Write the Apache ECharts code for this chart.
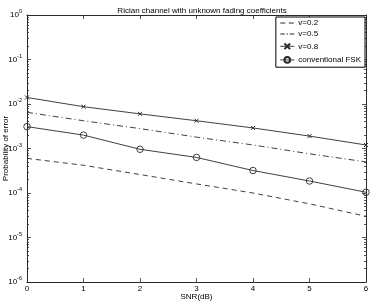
<!DOCTYPE html>
<html><head><meta charset="utf-8">
<script src="https://cdn.jsdelivr.net/npm/echarts@6/dist/echarts.min.js"></script>
<style>html,body{margin:0;padding:0;background:#fff}#c{width:374px;height:304px}</style>
</head><body><div id="c"></div>
<script>
var snr = [0, 1, 2, 3, 4, 5, 6];
var v02 = [0.0006, 0.00042, 0.00026, 0.00016, 0.0001, 0.000057, 0.00003];
var v05 = [0.0065, 0.0042, 0.0028, 0.0018, 0.0012, 0.00076, 0.0005];
var v08 = [0.014, 0.0087, 0.006, 0.0042, 0.0029, 0.0019, 0.0012];
var fsk = [0.0031, 0.002, 0.00096, 0.00063, 0.00032, 0.000186, 0.000104];
var names = ['v=0.2', 'v=0.5', 'v=0.8', 'conventional FSK'];
var yMajor = [1e-6, 1e-5, 1e-4, 1e-3, 1e-2, 1e-1, 1];
var yMinor = [];
for (var e = -6; e < 0; e++) for (var m = 2; m <= 9; m++) yMinor.push(m * Math.pow(10, e));

var FONT = '"Liberation Sans", Arial, sans-serif';
var C = '#2a2a2a';
var chart = echarts.init(document.getElementById('c'));
function pair(d) { return snr.map(function (x, i) { return [x, d[i]]; }); }
function yax(pos, labels, line, ticks, len) {
  return {
    type: 'log', logBase: 10, min: 1e-6, max: 1, position: pos,
    axisLine: { show: line, lineStyle: { color: C, width: 1 } },
    axisTick: { show: true, inside: true, length: len, customValues: ticks, lineStyle: { color: C, width: 0.8 } },
    splitLine: { show: false },
    axisLabel: labels ? {
      show: true, margin: 5, fontFamily: FONT, fontSize: 8, color: '#000',
      customValues: yMajor,
      formatter: function (v) { var ex = Math.round(Math.log10(v)); return '{b|10}{s|' + ex + '}'; },
      rich: { b: { fontSize: 8, fontFamily: FONT, color: '#000' }, s: { fontSize: 5.5, fontFamily: FONT, color: '#000', verticalAlign: 'top', padding: [0, 0, 7, 0] } }
    } : { show: false }
  };
}
chart.setOption({
  animation: false,
  backgroundColor: '#fff',
  title: { text: 'Rician channel with unknown fading coefficients', left: 197, textAlign: 'center', top: 2,
    textStyle: { fontFamily: FONT, fontSize: 8, fontWeight: 'normal', color: '#000' } },
  grid: { left: 27, right: 8, top: 15, bottom: 22, outerBoundsMode: 'none', containLabel: false },
  legend: {
    data: [
      { name: names[0], icon: 'path://M0,0M14,7M0,3h5v1h-5zM8.5,3h5v1h-5z' },
      { name: names[1], icon: 'path://M0,0M14,7M0,3h4.5v1h-4.5zM6.3,3h1.4v1h-1.4zM9.5,3h4.5v1h-4.5z' },
      names[2], names[3]
    ],
    orient: 'vertical', right: 9, top: 17, itemWidth: 14, itemHeight: 7, itemGap: 3,
    padding: [2, 4, 2, 4], borderColor: '#000', borderWidth: 1, backgroundColor: '#fff',
    lineStyle: { width: 0.9 },
    textStyle: { fontFamily: FONT, fontSize: 8, color: '#000', padding: [0, 0, 0, -1] }
  },
  xAxis: [
    { type: 'value', min: 0, max: 6, interval: 1, position: 'bottom',
      name: 'SNR(dB)', nameLocation: 'middle', nameGap: 11, nameMoveOverlap: false,
      nameTextStyle: { fontFamily: FONT, fontSize: 8, color: '#000' },
      axisLine: { lineStyle: { color: C, width: 1 } },
      axisTick: { inside: true, length: 4, lineStyle: { color: C, width: 0.8 } },
      splitLine: { show: false },
      axisLabel: { margin: 3, fontFamily: FONT, fontSize: 8, color: '#000' } },
    { type: 'value', min: 0, max: 6, interval: 1, position: 'top',
      axisLine: { lineStyle: { color: C, width: 1 } },
      axisTick: { inside: true, length: 4, lineStyle: { color: C, width: 0.8 } },
      splitLine: { show: false }, axisLabel: { show: false } }
  ],
  yAxis: [
    Object.assign(yax('left', true, true, yMajor, 4), {
      name: 'Probability of error', nameLocation: 'middle', nameGap: 17, nameMoveOverlap: false,
      nameTextStyle: { fontFamily: FONT, fontSize: 8, color: '#000' } }),
    yax('left', false, false, yMinor, 2),
    yax('right', false, true, yMajor, 4),
    yax('right', false, false, yMinor, 2)
  ],
  series: [
    { name: names[0], type: 'line', data: pair(v02), symbol: 'none',
      lineStyle: { color: C, width: 0.9, type: [5, 4] }, itemStyle: { color: C } },
    { name: names[1], type: 'line', data: pair(v05), symbol: 'none',
      lineStyle: { color: C, width: 0.9, type: [6, 3, 1, 3] }, itemStyle: { color: C } },
    { name: names[2], type: 'line', data: pair(v08), symbol: 'path://M0,0L10,10M10,0L0,10', symbolSize: 4,
      lineStyle: { color: C, width: 0.9 }, itemStyle: { color: 'none', borderColor: C, borderWidth: 1 } },
    { name: names[3], type: 'line', data: pair(fsk), symbol: 'circle', symbolSize: 6.5,
      lineStyle: { color: C, width: 0.9 }, itemStyle: { color: 'none', borderColor: C, borderWidth: 0.9 } }
  ]
});
</script></body></html>
